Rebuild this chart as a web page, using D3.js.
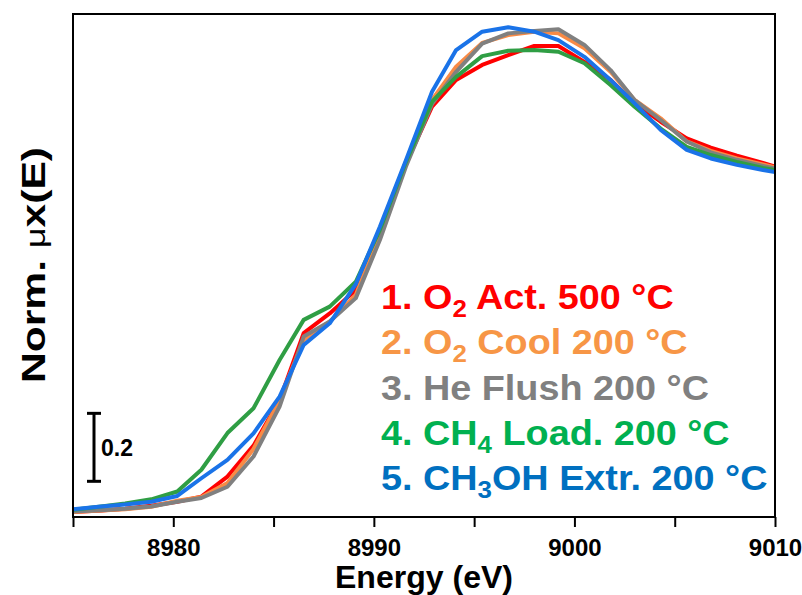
<!DOCTYPE html>
<html>
<head>
<meta charset="utf-8">
<script src="https://cdn.jsdelivr.net/npm/d3@7"></script>
<style>
  html, body { margin: 0; padding: 0; background: #fff; }
  text { font-family: Arial, "Liberation Sans", sans-serif; font-weight: bold; }
</style>
</head>
<body>
<div id="chart"></div>
<script>
// XANES spectra, normalized, Cu K-edge region
const energy = [8975.0, 8976.4, 8977.6, 8978.9, 8980.2, 8981.4, 8982.7, 8984.0, 8985.3, 8986.5,
                8987.8, 8989.1, 8990.3, 8991.6, 8992.9, 8994.1, 8995.4, 8996.7, 8998.0, 8999.2,
                9000.5, 9001.8, 9003.0, 9004.3, 9005.6, 9006.8, 9008.1, 9009.4, 9010.0];

const o2Act500 = [0.000, 0.004, 0.009, 0.018, 0.030, 0.045, 0.104, 0.195, 0.329, 0.526,
                  0.584, 0.653, 0.825, 1.025, 1.192, 1.271, 1.315, 1.344, 1.371, 1.371,
                  1.324, 1.271, 1.202, 1.148, 1.099, 1.072, 1.048, 1.027, 1.016];
const o2Cool200 = [0.000, 0.004, 0.008, 0.015, 0.033, 0.044, 0.085, 0.185, 0.329, 0.506,
                   0.560, 0.638, 0.820, 1.025, 1.212, 1.310, 1.380, 1.403, 1.413, 1.408,
                   1.364, 1.295, 1.212, 1.158, 1.090, 1.062, 1.040, 1.022, 1.014];
const heFlush200 = [0.001, 0.005, 0.009, 0.016, 0.030, 0.041, 0.074, 0.163, 0.310, 0.516,
                    0.560, 0.629, 0.800, 1.016, 1.200, 1.295, 1.378, 1.408, 1.415, 1.420,
                    1.374, 1.300, 1.212, 1.153, 1.090, 1.058, 1.036, 1.018, 1.010];
const ch4Load200 = [0.006, 0.016, 0.025, 0.037, 0.060, 0.124, 0.232, 0.305, 0.447, 0.565,
                    0.604, 0.677, 0.830, 1.030, 1.207, 1.280, 1.341, 1.357, 1.359, 1.354,
                    1.320, 1.256, 1.192, 1.128, 1.074, 1.050, 1.030, 1.012, 1.006];
const ch3ohExtr200 = [0.008, 0.016, 0.022, 0.030, 0.047, 0.099, 0.153, 0.231, 0.339, 0.491,
                      0.555, 0.670, 0.839, 1.035, 1.236, 1.359, 1.413, 1.426, 1.413, 1.388,
                      1.339, 1.271, 1.202, 1.124, 1.065, 1.040, 1.021, 1.006, 1.000];

const xTickValues = [8975, 8980, 8985, 8990, 8995, 9000, 9005, 9010];
const xTickLabels = [8980, 8990, 9000, 9010];
const scaleBar = [0.09, 0.29]; // 0.2 units
const scaleBarLabel = "0.2";

// legend text pieces: [before sub, subscript, after sub]
const legendParts = [
  ["1. O", "2", " Act. 500 °C"],
  ["2. O", "2", " Cool 200 °C"],
  ["3. He Flush 200 °C", "", ""],
  ["4. CH", "4", " Load. 200 °C"],
  ["5. CH", "3", "OH Extr. 200 °C"]
];

const series = [
  { values: o2Act500,    line: "#ff0000", text: "#ff0000" },
  { values: o2Cool200,   line: "#f98a45", text: "#f79646" },
  { values: heFlush200,  line: "#808080", text: "#808080" },
  { values: ch4Load200,  line: "#2f9e44", text: "#00b050" },
  { values: ch3ohExtr200,line: "#1a73e8", text: "#0070c0" }
];

const width = 802, height = 595;
const margin = { left: 73, right: 27, top: 14, bottom: 78 };

const svg = d3.select("#chart").append("svg")
  .attr("width", width).attr("height", height);

const x = d3.scaleLinear().domain([8975, 9010]).range([margin.left, width - margin.right]);
const y = d3.scaleLinear().domain([-0.015, 1.465]).range([height - margin.bottom, margin.top]);

svg.append("defs").append("clipPath").attr("id", "clip")
  .append("rect")
  .attr("x", margin.left).attr("y", margin.top)
  .attr("width", x.range()[1] - margin.left)
  .attr("height", y.range()[0] - margin.top);

// curves
const line = d3.line().x((d, i) => x(energy[i])).y(d => y(d));
svg.append("g").attr("clip-path", "url(#clip)")
  .selectAll("path")
  .data(series)
  .join("path")
  .attr("d", d => line(d.values))
  .attr("fill", "none")
  .attr("stroke", d => d.line)
  .attr("stroke-width", 4)
  .attr("stroke-linejoin", "round");

// frame
svg.append("rect")
  .attr("x", margin.left).attr("y", margin.top)
  .attr("width", x.range()[1] - margin.left)
  .attr("height", y.range()[0] - margin.top)
  .attr("fill", "none").attr("stroke", "#000").attr("stroke-width", 2);

// x axis
const xAxis = d3.axisBottom(x)
  .tickValues(xTickValues)
  .tickSize(10)
  .tickFormat(d => xTickLabels.includes(d) ? d : "");
const gx = svg.append("g")
  .attr("transform", `translate(0,${y.range()[0]})`)
  .call(xAxis);
gx.select(".domain").remove();
gx.selectAll(".tick line").attr("stroke", "#000").attr("stroke-width", 2);
gx.selectAll(".tick text")
  .attr("y", 22)
  .attr("font-size", 24)
  .attr("fill", "#000")
  .attr("font-family", "Arial, 'Liberation Sans', sans-serif");

// axis titles
svg.append("text")
  .attr("x", 424).attr("y", 588)
  .attr("text-anchor", "middle")
  .attr("font-size", 31)
  .attr("textLength", 178)
  .attr("lengthAdjust", "spacingAndGlyphs")
  .text("Energy (eV)");

const yTitle = svg.append("text")
  .attr("transform", "translate(45,265) rotate(-90)")
  .attr("text-anchor", "middle")
  .attr("font-size", 33)
  .attr("textLength", 236)
  .attr("lengthAdjust", "spacingAndGlyphs");
yTitle.append("tspan").text("Norm. ");
yTitle.append("tspan").attr("font-weight", "normal").attr("font-size", 28).text("μ");
yTitle.append("tspan").text("x(E)");

// scale bar
const barX = 94;
svg.append("line")
  .attr("x1", barX).attr("x2", barX)
  .attr("y1", y(scaleBar[0])).attr("y2", y(scaleBar[1]))
  .attr("stroke", "#000").attr("stroke-width", 3);
scaleBar.forEach(v => {
  svg.append("line")
    .attr("x1", barX - 7).attr("x2", barX + 7)
    .attr("y1", y(v)).attr("y2", y(v))
    .attr("stroke", "#000").attr("stroke-width", 3);
});
svg.append("text")
  .attr("x", 101).attr("y", y((scaleBar[0] + scaleBar[1]) / 2) + 9)
  .attr("font-size", 23)
  .text(scaleBarLabel);

// legend
legendParts.forEach((p, i) => {
  const t = svg.append("text")
    .attr("transform", `translate(381,${309 + i * 45.3}) scale(1.08,1)`)
    .attr("font-size", 35)
    .attr("fill", series[i].text);
  t.append("tspan").text(p[0]);
  if (p[1]) {
    t.append("tspan").attr("font-size", 24).attr("dy", 8).text(p[1]);
    t.append("tspan").attr("dy", -8).text(p[2]);
  }
});
</script>
</body>
</html>
